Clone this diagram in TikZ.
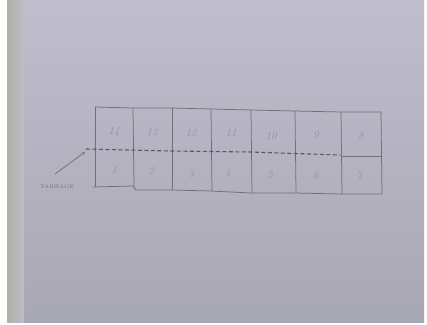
\documentclass[tikz,border=0pt]{standalone}
\usepackage{tikz}
\usetikzlibrary{arrows.meta}
\begin{document}
\begin{tikzpicture}[x=1pt,y=-1pt,
  pencil/.style={draw=pencilc,line width=0.75pt},
  num/.style={text=numc,font=\itshape\fontsize{11}{11}\selectfont,inner sep=0pt},
  lab/.style={text=pencilc,font=\fontsize{5}{5}\selectfont,inner sep=0pt}]
\definecolor{pencilc}{RGB}{112,111,124}
\definecolor{numc}{RGB}{145,144,160}
\definecolor{bgtop}{RGB}{192,190,205}
\definecolor{bgbot}{RGB}{168,167,180}
\definecolor{stripc}{RGB}{176,176,166}
\useasboundingbox (0,0) rectangle (427,324);
% photo background
\fill[white] (0,0) rectangle (427,324);
\shade[top color=bgtop,bottom color=bgbot] (7,0) rectangle (424,322);
\shade[left color=stripc,right color=bgtop!90!stripc] (7,0) rectangle (24,322);
% grid outline
\draw[pencil] (95,107) -- (133,108) -- (172,108) -- (211,109) -- (251,110) -- (295,111) -- (341,112) -- (381,112);
\draw[pencil] (93,187) -- (133,186) -- (136,190) -- (172,190) -- (211,191) -- (251,193) -- (295,193) -- (341,194) -- (382,194);
% vertical lines
\draw[pencil] (95,107) -- (95,187);
\draw[pencil] (133,108) -- (134,188);
\draw[pencil] (172,108) -- (172,190);
\draw[pencil] (211,109) -- (212,191);
\draw[pencil] (251,110) -- (252,193);
\draw[pencil] (295,111) -- (296,193);
\draw[pencil] (341,112) -- (342,194);
\draw[pencil] (381,112) -- (382,194);
% right column split
\draw[pencil] (341,156) -- (381,156);
% dashed tear line
\coordinate (ds) at (86,149);
\coordinate (de) at (340,155);
\draw[pencil,draw=pencilc!80!black,line width=1.1pt,dash pattern=on 4pt off 2.5pt] (ds) -- (170,151) -- (250,152) -- (de);
% arrow and label
\coordinate (as) at (55,174);
\coordinate (ae) at (85,152);
\draw[pencil,-{Stealth[length=3pt,width=2.5pt]}] (as) -- (ae);
\node[lab] (label) at (57,187) {TARWAGE};
% numbers
\node[num] (n14) at (114,132) {14};
\node[num] (n13) at (152,132) {13};
\node[num] (n12) at (191,133) {12};
\node[num] (n11) at (231,133) {11};
\node[num] (n10) at (271,136) {10};
\node[num] (n9) at (316,135) {9};
\node[num] (n8) at (361,136) {8};
\node[num] (n1) at (114,170) {1};
\node[num] (n2) at (151,171) {2};
\node[num] (n3) at (191,174) {3};
\node[num] (n4) at (228,173) {4};
\node[num] (n5) at (270,175) {5};
\node[num] (n6) at (316,176) {6};
\node[num] (n7) at (359,176) {7};
\end{tikzpicture}
\end{document}
